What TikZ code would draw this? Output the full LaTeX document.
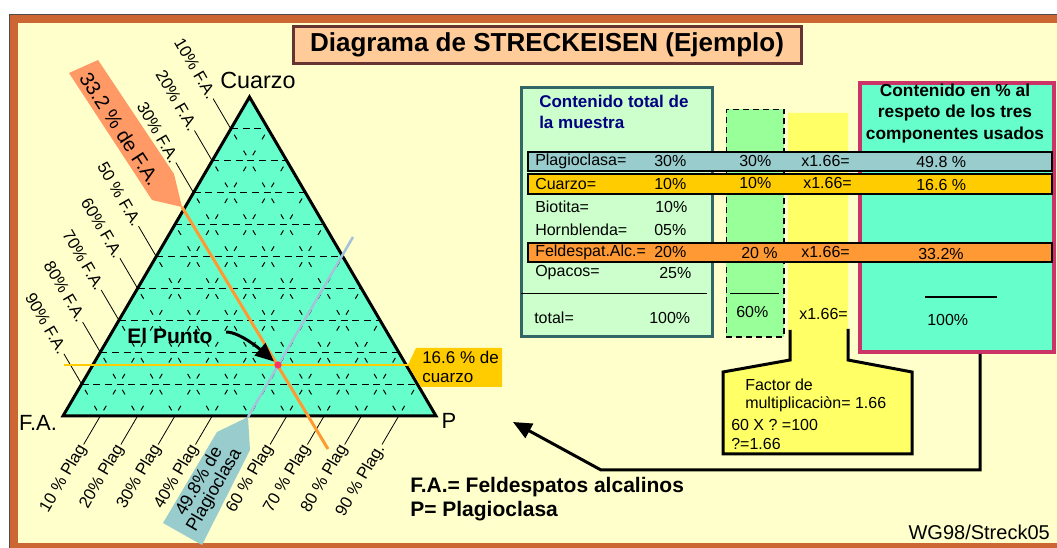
\documentclass[tikz,border=0pt]{standalone}
\usepackage{fontspec}
\setmainfont{Liberation Sans}
\usetikzlibrary{arrows.meta,calc}

\definecolor{paper}{HTML}{FFFFCC}
\definecolor{frameBrown}{HTML}{CC6633}
\definecolor{titleFill}{HTML}{FFCC99}
\definecolor{titleLine}{HTML}{663333}
\definecolor{triFill}{HTML}{66FFCC}
\definecolor{faOrange}{HTML}{FF9933}
\definecolor{faNote}{HTML}{FF9966}
\definecolor{qzGold}{HTML}{FFCC00}
\definecolor{plagGrey}{HTML}{99CCCC}
\definecolor{plagLine}{HTML}{A3C3DA}
\definecolor{dotPink}{HTML}{FF3366}
\definecolor{totFill}{HTML}{CCFFCC}
\definecolor{totLine}{HTML}{336666}
\definecolor{totTitle}{HTML}{000080}
\definecolor{sumGreen}{HTML}{99FF99}
\definecolor{facYellow}{HTML}{FFFF66}
\definecolor{pctLine}{HTML}{CC3366}

\begin{document}
\begin{tikzpicture}[x=0.75pt, y=-0.75pt,
    lead/.style={black, line width=0.6pt},
    gridh/.style={black, line width=0.75pt, dash pattern=on 5.25pt off 3.5pt},
    gridd/.style={black, line width=0.75pt, dash pattern=on 4pt off 9.85pt, dash phase=8.95pt},
    falab/.style={font=\fontsize{12.5}{14}\selectfont, inner sep=1pt, anchor=east, rotate=-59.7},
    plaglab/.style={font=\fontsize{12.5}{14}\selectfont, inner sep=1pt, anchor=east, rotate=59.7},
    corner/.style={font=\fontsize{16.5}{19}\selectfont},
    cell/.style={font=\fontsize{12}{13.5}\selectfont, inner sep=0pt, anchor=west},
    band/.style={draw=black, line width=1.5pt},
    legend/.style={font=\fontsize{15.75}{18}\selectfont\bfseries, inner sep=0pt, anchor=west},
    fat/.style={line width=2.25pt}]

    % Frame
        \useasboundingbox (0,0) rectangle (1057,548);
        \fill[white] (0,0) rectangle (1057,548);
        \fill[frameBrown] (9,14) rectangle (1070,560);
        \draw[black!70, line width=0.75pt] (9.5,560) -- (9.5,14.5) -- (1070,14.5);
        \fill[paper] (18,23) rectangle (1070,543);

    % Title
        \node[draw=titleLine, fill=titleFill, line width=2.25pt, minimum width=381pt, minimum height=27.75pt,
              inner sep=0pt, font=\fontsize{19.5}{22}\selectfont\bfseries] (title) at (547,45) {Diagrama de STRECKEISEN (Ejemplo)};

    % Triangle
        % corners
        \coordinate (A) at (63,416);   % F.A.
        \coordinate (B) at (436,416);  % P
        \coordinate (C) at (249.5,97); % Cuarzo

        % fill and grid
        \fill[triFill] (A) -- (B) -- (C) -- cycle;
        \foreach \k in {1,...,9} {
            \draw[gridh] ($(C)!\k/10!(A)$) -- ($(C)!\k/10!(B)$);
            \draw[gridd] ($(A)!\k/10!(B)$) -- ($(C)!\k/10!(B)$);
            \draw[gridd] ($(A)!\k/10!(B)$) -- ($(A)!\k/10!(C)$);
        }
        \draw[black, fat] (A) -- (B) -- (C) -- cycle;

        % corner names
        \node[corner, font=\fontsize{17.5}{19}\selectfont] (qzcorner) at (258,80) {Cuarzo};
        \node[corner] (facorner) at (38,423) {F.A.};
        \node[corner] (pcorner) at (449,421) {P};

    % F.A. labels
        \foreach \k/\lab in {1/10\% F.A., 2/20\% F.A., 3/30\% F.A., 5/50 \% F.A., 6/60\% F.A., 7/70\% F.A., 8/80\% F.A., 9/90\% F.A.} {
            \coordinate (fe\k) at ($(C)!\k/10!(A)$);
            \node[falab] (fa\k) at ($(fe\k)+(-17.7,-30.2)$) {\lab};
            \draw[lead] (fa\k.east) -- (fe\k);
        }

    % Plag labels
        \foreach \k/\lab in {1/10 \% Plag, 2/20\% Plag, 3/30\% Plag, 4/40\% Plag, 6/60 \% Plag, 7/70 \% Plag, 8/80 \% Plag, 9/90 \% Plag.} {
            \coordinate (pe\k) at ($(A)!\k/10!(B)$);
            \node[plaglab] (pl\k) at ($(pe\k)+(-16.7,28.5)$) {\lab};
            \draw[lead] (pl\k.east) -- (pe\k);
        }

    % The point
        \coordinate (pt) at (278,365);
        \coordinate (fatip) at (182,207);
        \coordinate (pltip) at (248,417);
        \coordinate (qztip) at (408,365);

        % callouts
        \fill[faNote] (69,73) -- (98,60) -- (174,174) -- (fatip) -- (152,200) -- cycle;
        \node[rotate=-57, font=\fontsize{15}{16}\selectfont] (fanote) at (120,129) {33.2 \% de F.A.};

        \fill[plagGrey] (pltip) -- (250,450) -- (202,545) -- (163,523) -- (217,432) -- cycle;
        \node[rotate=60, align=center, font=\fontsize{13.5}{13}\selectfont, inner sep=0pt] (plagnote) at (207,486) {49.8\% de\\Plagioclasa};

        \fill[qzGold] (qztip) -- (416,348) -- (502,348) -- (502,387) -- (421,387) -- cycle;
        \node[anchor=west, align=left, inner sep=0pt, font=\fontsize{12.75}{14.25}\selectfont] (qznote) at (422,367) {16.6 \% de\\cuarzo};

        % lines
        \draw[qzGold, line width=1.8pt] (64,365) -- (qztip);
        \draw[faOrange, fat] (fatip) -- (328,449);
        \draw[plagLine, line width=1.9pt] (pltip) -- (353,237);
        \fill[dotPink] (pt) circle (2.7pt);

        % arrow
        \node[font=\fontsize{15.75}{18}\selectfont\bfseries, inner sep=1pt] (punto) at (170,336) {El Punto};
        \draw[fat, -{Triangle[length=14pt, width=12pt]}, shorten >=4pt]
            ([xshift=9pt, yshift=3pt]punto.east) .. controls +(14,0) and +(-16,-14) .. (pt);

    % Table
        % boxes
        \node[draw=totLine, fill=totFill, line width=2.25pt, minimum width=143.25pt, minimum height=186.75pt,
              inner sep=0pt, anchor=north west] (totbox) at (519.5,86.5) {};
        \node[draw=black, dash pattern=on 4.5pt off 3pt, fill=sumGreen, line width=1.1pt, minimum width=43.1pt,
              minimum height=170.6pt, inner sep=0pt, anchor=north west] (sumcol) at (725.75,108.75) {};
        \fill[facYellow] (788,113) -- (848,113) -- (848,360) -- (912,372) -- (912,454) -- (723,454) -- (723,372) -- (790,360) -- (788,360) -- cycle;
        \draw[black, fat] (790,330) -- (790,360) -- (723,372) -- (723,454) -- (912,454) -- (912,372) -- (848,360) -- (848,329);
        \node[draw=pctLine, fill=triFill, line width=3pt, minimum width=145.5pt, minimum height=201.75pt,
              inner sep=0pt, anchor=north west] (pctbox) at (858,81) {};

        % headings
        \node[font=\fontsize{12.75}{15.75}\selectfont\bfseries, text=totTitle, align=left, anchor=west, inner sep=0pt]
            (tottitle) at (539,111.5) {Contenido total de\\la muestra};
        \node[font=\fontsize{13}{16}\selectfont\bfseries, align=center, inner sep=0pt]
            (pcttitle) at (955,113.5) {Contenido en \% al\\respeto de los tres\\componentes usados};

        % bands
        \draw[band, fill=plagGrey] (528,152) rectangle (1052,171);
        \draw[band, fill=qzGold] (528,174) rectangle (1052,194);
        \draw[band, fill=faOrange] (528,243) rectangle (1052,262);

        % rows
        \node[cell] (plagname) at (535,161) {Plagioclasa=};
        \node[cell] (plagtot) at (654,161) {30\%};
        \node[cell] (plagsum) at (739,161) {30\%};
        \node[cell] (plagfac) at (801,161) {x1.66=};
        \node[cell] (plagpct) at (916,162) {49.8 \%};

        \node[cell] (qzname) at (535,184) {Cuarzo=};
        \node[cell] (qztot) at (654,184) {10\%};
        \node[cell] (qzsum) at (739,183) {10\%};
        \node[cell] (qzfac) at (803,183) {x1.66=};
        \node[cell] (qzpct) at (916,185) {16.6 \%};

        \node[cell] (bioname) at (535,207) {Biotita=};
        \node[cell] (biotot) at (655,207) {10\%};
        \node[cell] (hbname) at (535,230) {Hornblenda=};
        \node[cell] (hbtot) at (654,230) {05\%};

        \node[cell] (faname) at (535,252) {Feldespat.Alc.=};
        \node[cell] (fatot) at (654,252) {20\%};
        \node[cell] (fasum) at (741,253) {20 \%};
        \node[cell] (fafac) at (801,252) {x1.66=};
        \node[cell] (fapct) at (918,254) {33.2\%};

        \node[cell] (opname) at (535,273) {Opacos=};
        \node[cell] (optot) at (659,273) {25\%};

        % sums
        \draw[line width=0.75pt] (521,294) -- (707,294);
        \draw[line width=0.75pt] (730,294) -- (779,294);
        \draw[line width=1.1pt] (925,297) -- (997,297);
        \node[cell] (totname) at (534,318) {total=};
        \node[cell] (tottot) at (649,318) {100\%};
        \node[cell] (sumtot) at (736,312) {60\%};
        \node[cell] (factot) at (799,314) {x1.66=};
        \node[cell] (pcttot) at (927,320) {100\%};

        % factor
        \node[cell, align=left] (factor) at (745,395) {Factor de\\multiplicaciòn= 1.66};
        \node[cell] (eqa) at (731,425) {60 X ? =100};
        \node[cell] (eqb) at (731,444) {?=1.66};

    % Arrow back to the triangle
        \coordinate (elbow) at (601,470);
        \coordinate (target) at (513,422);
        \draw[fat, -{Triangle[length=14pt, width=12pt]}] ([xshift=17.25pt]pctbox.south) |- (elbow) -- (target);

    % Legend
        \node[legend] (legfa) at (410,487) {F.A.= Feldespatos alcalinos};
        \node[legend] (legp) at (410,511) {P= Plagioclasa};
        \node[anchor=east, inner sep=0pt, font=\fontsize{15}{17}\selectfont] (sig) at (1050,532) {WG98/Streck05};
\end{tikzpicture}
\end{document}
